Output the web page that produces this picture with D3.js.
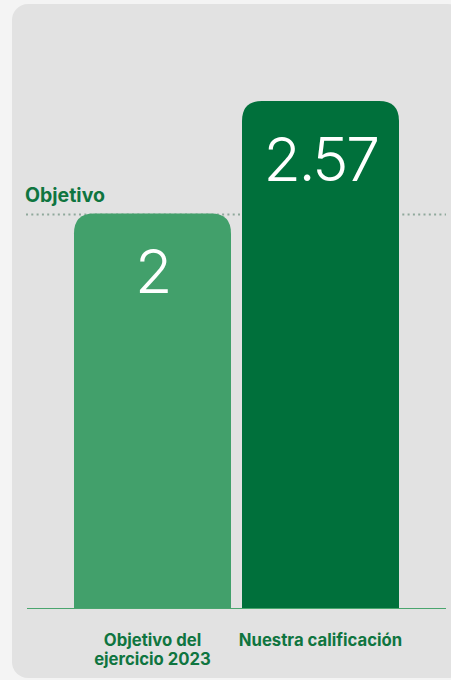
<!DOCTYPE html>
<html>
<head>
<meta charset="utf-8">
<script src="https://cdn.jsdelivr.net/npm/d3@7"></script>
<style>
  html, body { margin: 0; padding: 0; background: #f4f4f4; }
  svg { display: block; }
</style>
</head>
<body>
<div id="chart"></div>
<script>
// chart data
const categories = ['Objetivo del ejercicio 2023', 'Nuestra calificación'];
const values = [2, 2.57];
const labelLines = [['Objetivo del', 'ejercicio 2023'], ['Nuestra calificación']];
const valueLabels = ['2', '2.57'];
const targetValue = 2;
const targetLabel = 'Objetivo';
const barColors = ['#42a06b', '#00703b'];

const width = 451, height = 680;
const green = '#0f7540';

const svg = d3.select('#chart').append('svg')
  .attr('width', width)
  .attr('height', height);

// card
svg.append('rect')
  .attr('x', 12).attr('y', 4)
  .attr('width', 452).attr('height', 674)
  .attr('rx', 16)
  .attr('fill', '#e2e2e2');

const x = d3.scaleBand()
  .domain(categories)
  .range([74, 399])
  .paddingInner(0.0655)
  .paddingOuter(0);

const y = d3.scaleLinear()
  .domain([0, 2.57])
  .range([608, 101]);

const r = 20;
function topRounded(x0, y0, w, h) {
  const rr = Math.min(r, w / 2, h);
  return `M${x0},${y0 + h}V${y0 + rr}Q${x0},${y0} ${x0 + rr},${y0}` +
    `H${x0 + w - rr}Q${x0 + w},${y0} ${x0 + w},${y0 + rr}V${y0 + h}Z`;
}

// target line (dotted)
svg.append('line')
  .attr('x1', 26).attr('x2', 446)
  .attr('y1', y(targetValue) + 1).attr('y2', y(targetValue) + 1)
  .attr('stroke', '#8fa89b')
  .attr('stroke-width', 2)
  .attr('stroke-dasharray', '2 3.3');

svg.append('text')
  .attr('x', 25).attr('y', y(targetValue) - 11)
  .attr('font-family', 'Inter, sans-serif')
  .attr('font-weight', 700)
  .attr('font-size', 19.5)
  .attr('fill', green)
  .text(targetLabel);

// bars
svg.selectAll('path.bar')
  .data(values)
  .enter()
  .append('path')
  .attr('class', 'bar')
  .attr('d', (d, i) => topRounded(x(categories[i]), y(d), x.bandwidth(), y(0) - y(d)))
  .attr('fill', (d, i) => barColors[i]);

// value labels
svg.selectAll('text.val')
  .data(values)
  .enter()
  .append('text')
  .attr('class', 'val')
  .attr('x', (d, i) => x(categories[i]) + x.bandwidth() / 2)
  .attr('y', d => y(d) + 80)
  .attr('text-anchor', 'middle')
  .attr('font-family', 'Inter, sans-serif')
  .attr('font-weight', 300)
  .attr('font-size', 61)
  .attr('letter-spacing', -2.5)
  .attr('fill', '#fff')
  .text((d, i) => valueLabels[i]);

// baseline
svg.append('line')
  .attr('x1', 27).attr('x2', 446)
  .attr('y1', y(0) + 0.5).attr('y2', y(0) + 0.5)
  .attr('stroke', '#4aa56e')
  .attr('stroke-width', 1.2);

// category labels
const cat = svg.selectAll('text.cat')
  .data(categories)
  .enter()
  .append('text')
  .attr('class', 'cat')
  .attr('x', d => x(d) + x.bandwidth() / 2)
  .attr('y', 645.5)
  .attr('text-anchor', 'middle')
  .attr('font-family', 'Inter, sans-serif')
  .attr('font-weight', 700)
  .attr('font-size', 16.7)
  .attr('fill', green);

cat.each(function(d, i) {
  d3.select(this).selectAll('tspan')
    .data(labelLines[i])
    .enter()
    .append('tspan')
    .attr('x', x(d) + x.bandwidth() / 2)
    .attr('dy', (t, j) => j === 0 ? 0 : 19.5)
    .text(t => t);
});
</script>
</body>
</html>
